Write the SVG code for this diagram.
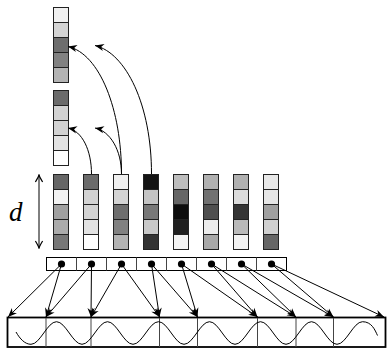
<svg xmlns="http://www.w3.org/2000/svg" width="387" height="348" viewBox="0 0 387 348">
  <style>
    .c { stroke: #222; stroke-width: 1; }
    .box { fill: #fff; stroke: #000; stroke-width: 1; }
    .div { stroke: #444; stroke-width: 1; }
    .dot { fill: #000; }
    .ln { fill: none; stroke: #000; stroke-width: 1; }
    .wave { fill: none; stroke: #000; stroke-width: 1; }
    .lbl { font-family: "Liberation Serif", "DejaVu Serif", serif; font-style: italic; font-size: 27px; fill: #000; }
  </style>
  <defs>
    <marker id="stealth" viewBox="-10 -5 10 10" refX="0" refY="0" markerWidth="10" markerHeight="10" markerUnits="userSpaceOnUse" orient="auto">
      <path d="M0,0 L-9,-3.6 L-6.3,0 L-9,3.6 Z" fill="#000"/>
    </marker>
    <marker id="to" viewBox="-9 -5 10 10" refX="0" refY="0" markerWidth="10" markerHeight="10" markerUnits="userSpaceOnUse" orient="auto-start-reverse">
      <path d="M-7,-3.6 Q-2,-0.6 0,0 Q-2,0.6 -7,3.6" fill="none" stroke="#000" stroke-width="1.2"/>
    </marker>
  </defs>
  <rect width="387" height="348" fill="#fff"/>

  <!-- copied vectors -->
  <g id="copy-1">
    <rect class="c" x="53.5" y="7.5" width="15" height="15" fill="#f0f0f0"/>
    <rect class="c" x="53.5" y="22.5" width="15" height="15" fill="#d4d4d4"/>
    <rect class="c" x="53.5" y="37.5" width="15" height="15" fill="#6e6e6e"/>
    <rect class="c" x="53.5" y="52.5" width="15" height="15" fill="#818181"/>
    <rect class="c" x="53.5" y="67.5" width="15" height="15" fill="#b3b3b3"/>
  </g>
  <g id="copy-2">
    <rect class="c" x="53.5" y="90.5" width="15" height="15" fill="#6b6b6b"/>
    <rect class="c" x="53.5" y="105.5" width="15" height="15" fill="#d2d2d2"/>
    <rect class="c" x="53.5" y="120.5" width="15" height="15" fill="#d2d2d2"/>
    <rect class="c" x="53.5" y="135.5" width="15" height="15" fill="#e2e2e2"/>
    <rect class="c" x="53.5" y="150.5" width="15" height="15" fill="#ffffff"/>
  </g>

  <!-- embedding columns -->
  <g id="col-1">
    <rect class="c" x="53.5" y="174.5" width="15" height="15" fill="#666666"/>
    <rect class="c" x="53.5" y="189.5" width="15" height="15" fill="#f2f2f2"/>
    <rect class="c" x="53.5" y="204.5" width="15" height="15" fill="#a0a0a0"/>
    <rect class="c" x="53.5" y="219.5" width="15" height="15" fill="#ababab"/>
    <rect class="c" x="53.5" y="234.5" width="15" height="15" fill="#777777"/>
  </g>
  <g id="col-2">
    <rect class="c" x="83.5" y="174.5" width="15" height="15" fill="#6b6b6b"/>
    <rect class="c" x="83.5" y="189.5" width="15" height="15" fill="#d2d2d2"/>
    <rect class="c" x="83.5" y="204.5" width="15" height="15" fill="#d2d2d2"/>
    <rect class="c" x="83.5" y="219.5" width="15" height="15" fill="#e2e2e2"/>
    <rect class="c" x="83.5" y="234.5" width="15" height="15" fill="#ffffff"/>
  </g>
  <g id="col-3">
    <rect class="c" x="113.5" y="174.5" width="15" height="15" fill="#f0f0f0"/>
    <rect class="c" x="113.5" y="189.5" width="15" height="15" fill="#d4d4d4"/>
    <rect class="c" x="113.5" y="204.5" width="15" height="15" fill="#6e6e6e"/>
    <rect class="c" x="113.5" y="219.5" width="15" height="15" fill="#818181"/>
    <rect class="c" x="113.5" y="234.5" width="15" height="15" fill="#b3b3b3"/>
  </g>
  <g id="col-4">
    <rect class="c" x="143.5" y="174.5" width="15" height="15" fill="#141414"/>
    <rect class="c" x="143.5" y="189.5" width="15" height="15" fill="#c4c4c4"/>
    <rect class="c" x="143.5" y="204.5" width="15" height="15" fill="#787878"/>
    <rect class="c" x="143.5" y="219.5" width="15" height="15" fill="#c8c8c8"/>
    <rect class="c" x="143.5" y="234.5" width="15" height="15" fill="#333333"/>
  </g>
  <g id="col-5">
    <rect class="c" x="173.5" y="174.5" width="15" height="15" fill="#bdbdbd"/>
    <rect class="c" x="173.5" y="189.5" width="15" height="15" fill="#666666"/>
    <rect class="c" x="173.5" y="204.5" width="15" height="15" fill="#0d0d0d"/>
    <rect class="c" x="173.5" y="219.5" width="15" height="15" fill="#202020"/>
    <rect class="c" x="173.5" y="234.5" width="15" height="15" fill="#f4f4f4"/>
  </g>
  <g id="col-6">
    <rect class="c" x="203.5" y="174.5" width="15" height="15" fill="#b0b0b0"/>
    <rect class="c" x="203.5" y="189.5" width="15" height="15" fill="#717171"/>
    <rect class="c" x="203.5" y="204.5" width="15" height="15" fill="#4f4f4f"/>
    <rect class="c" x="203.5" y="219.5" width="15" height="15" fill="#ececec"/>
    <rect class="c" x="203.5" y="234.5" width="15" height="15" fill="#a8a8a8"/>
  </g>
  <g id="col-7">
    <rect class="c" x="233.5" y="174.5" width="15" height="15" fill="#b0b0b0"/>
    <rect class="c" x="233.5" y="189.5" width="15" height="15" fill="#dcdcdc"/>
    <rect class="c" x="233.5" y="204.5" width="15" height="15" fill="#353535"/>
    <rect class="c" x="233.5" y="219.5" width="15" height="15" fill="#b9b9b9"/>
    <rect class="c" x="233.5" y="234.5" width="15" height="15" fill="#f2f2f2"/>
  </g>
  <g id="col-8">
    <rect class="c" x="263.5" y="174.5" width="15" height="15" fill="#e8e8e8"/>
    <rect class="c" x="263.5" y="189.5" width="15" height="15" fill="#e6e6e6"/>
    <rect class="c" x="263.5" y="204.5" width="15" height="15" fill="#a0a0a0"/>
    <rect class="c" x="263.5" y="219.5" width="15" height="15" fill="#d0d0d0"/>
    <rect class="c" x="263.5" y="234.5" width="15" height="15" fill="#666666"/>
  </g>

  <!-- dimension label -->
  <g id="dim-d">
    <line class="ln" x1="39" y1="175" x2="39" y2="248" marker-start="url(#to)" marker-end="url(#to)"/>
    <text class="lbl" x="9" y="221">d</text>
  </g>

  <!-- position slots -->
  <g id="slots">
    <rect class="box" x="46.5" y="257.5" width="240" height="13"/>
    <line class="div" x1="76.5" y1="257.5" x2="76.5" y2="270.5"/>
    <line class="div" x1="106.5" y1="257.5" x2="106.5" y2="270.5"/>
    <line class="div" x1="136.5" y1="257.5" x2="136.5" y2="270.5"/>
    <line class="div" x1="166.5" y1="257.5" x2="166.5" y2="270.5"/>
    <line class="div" x1="196.5" y1="257.5" x2="196.5" y2="270.5"/>
    <line class="div" x1="226.5" y1="257.5" x2="226.5" y2="270.5"/>
    <line class="div" x1="256.5" y1="257.5" x2="256.5" y2="270.5"/>
    <circle class="dot" cx="61.5" cy="264" r="3.6"/>
    <circle class="dot" cx="91.5" cy="264" r="3.6"/>
    <circle class="dot" cx="121.5" cy="264" r="3.6"/>
    <circle class="dot" cx="151.5" cy="264" r="3.6"/>
    <circle class="dot" cx="181.5" cy="264" r="3.6"/>
    <circle class="dot" cx="211.5" cy="264" r="3.6"/>
    <circle class="dot" cx="241.5" cy="264" r="3.6"/>
    <circle class="dot" cx="271.5" cy="264" r="3.6"/>
  </g>

  <!-- signal strip -->
  <g id="signal">
    <rect x="7.5" y="317.5" width="378" height="29.5" fill="#fff" stroke="#000" stroke-width="1.8"/>
    <line class="div" x1="46" y1="318" x2="46" y2="347"/>
    <line class="div" x1="91" y1="318" x2="91" y2="347"/>
    <line class="div" x1="159.5" y1="318" x2="159.5" y2="347"/>
    <line class="div" x1="197.5" y1="318" x2="197.5" y2="347"/>
    <line class="div" x1="257.5" y1="318" x2="257.5" y2="347"/>
    <line class="div" x1="296" y1="318" x2="296" y2="347"/>
    <line class="div" x1="333.5" y1="318" x2="333.5" y2="347"/>
    <path class="wave" d="M16,332 C20,339 25,344.3 31,344.3 C40.2,344.3 47.3,321.7 56.5,321.7 S72.8,344.3 82,344.3 S98.3,321.7 107.5,321.7 S123.8,344.3 133,344.3 S149.3,321.7 158.5,321.7 S174.8,344.3 184,344.3 S200.3,321.7 209.5,321.7 S225.8,344.3 235,344.3 S251.3,321.7 260.5,321.7 S276.8,344.3 286,344.3 S302.3,321.7 311.5,321.7 S327.8,344.3 337,344.3 S353.3,321.7 362.5,321.7 S375,330 377.5,335.5"/>
  </g>

  <g id="connectors">
    <!-- copy arrows -->
    <path class="ln" d="M121.5,174 C121.5,110 100,54 68,46.5" marker-end="url(#stealth)"/>
    <path class="ln" d="M151.5,174 C151.5,105 126,53 95,45.5" marker-end="url(#stealth)"/>
    <path class="ln" d="M91.5,174 C91.5,150 82,131 68,128" marker-end="url(#stealth)"/>
    <path class="ln" d="M121.5,174 C121.5,150 110,131 95,128" marker-end="url(#stealth)"/>
    <!-- slot to strip arrows -->
    <line class="ln" x1="61.5" y1="264" x2="8" y2="317" marker-end="url(#stealth)"/>
    <line class="ln" x1="61.5" y1="264" x2="46" y2="317" marker-end="url(#stealth)"/>
    <line class="ln" x1="91.5" y1="264" x2="46" y2="317" marker-end="url(#stealth)"/>
    <line class="ln" x1="91.5" y1="264" x2="91" y2="317" marker-end="url(#stealth)"/>
    <line class="ln" x1="121.5" y1="264" x2="91" y2="317" marker-end="url(#stealth)"/>
    <line class="ln" x1="121.5" y1="264" x2="159.5" y2="317" marker-end="url(#stealth)"/>
    <line class="ln" x1="151.5" y1="264" x2="159.5" y2="317" marker-end="url(#stealth)"/>
    <line class="ln" x1="151.5" y1="264" x2="197.5" y2="317" marker-end="url(#stealth)"/>
    <line class="ln" x1="181.5" y1="264" x2="197.5" y2="317" marker-end="url(#stealth)"/>
    <line class="ln" x1="181.5" y1="264" x2="257.5" y2="317" marker-end="url(#stealth)"/>
    <line class="ln" x1="211.5" y1="264" x2="257.5" y2="317" marker-end="url(#stealth)"/>
    <line class="ln" x1="211.5" y1="264" x2="296" y2="317" marker-end="url(#stealth)"/>
    <line class="ln" x1="241.5" y1="264" x2="296" y2="317" marker-end="url(#stealth)"/>
    <line class="ln" x1="241.5" y1="264" x2="333.5" y2="317" marker-end="url(#stealth)"/>
    <line class="ln" x1="271.5" y1="264" x2="333.5" y2="317" marker-end="url(#stealth)"/>
    <line class="ln" x1="271.5" y1="264" x2="384" y2="317" marker-end="url(#stealth)"/>
  </g>
</svg>
